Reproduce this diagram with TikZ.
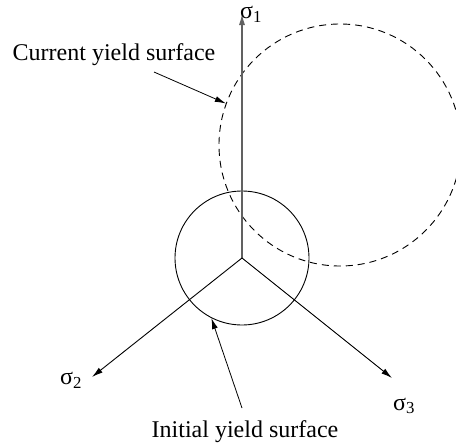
\documentclass[tikz,border=0pt]{standalone}
\usepackage{fontspec}
\setmainfont{Liberation Serif}
\usetikzlibrary{arrows.meta}
\tikzset{
  axisline/.style={line width=0.9pt,-{Latex[length=11pt,width=6pt]}},
  ysurf/.style={circle,draw,line width=0.9pt,inner sep=0pt},
  ylbl/.style={font=\fontsize{24}{28}\selectfont,inner sep=0pt},
  ptr/.style={line width=0.8pt,-{Latex[length=11pt,width=6pt]}}
}
\newcommand{\sig}[1]{σ\textsubscript{#1}}

\begin{document}
\begin{tikzpicture}[x=1pt,y=-1pt]
\useasboundingbox (0,0) rectangle (456,447);
\coordinate (O) at (242,258);
\foreach \nm/\px/\py in {s1/242/14,s2/92/377,s3/392/378}{\coordinate (\nm) at (\px,\py);}
% yield surfaces
\node[ysurf,minimum size=134pt] (init) at (O) {};
\begin{scope}
  \clip (0,0) rectangle (456,447);
  \node[ysurf,minimum size=242pt,dash pattern=on 7pt off 5pt] (cur) at (340,145) {};
\end{scope}
% principal stress axes
\draw[axisline,draw=black!62,line width=1.2pt] (O) -- (s1);
\foreach \s in {s2,s3}{\draw[axisline] (O) -- (\s);}
\node[ylbl] (l1) at (251,14) {\sig{1}};
\node[ylbl] (l2) at (71,380) {\sig{2}};
\node[ylbl] (l3) at (404,406) {\sig{3}};
% labels
\node[ylbl] (curlbl) at (114,55) {Current yield surface};
\node[ylbl] (initlbl) at (245,432) {Initial yield surface};
\coordinate (curtail) at (154,72);
\coordinate (inittail) at (242,408);
\draw[ptr] (curtail) -- (cur.160);
\draw[ptr] (inittail) -- (init.243);
\end{tikzpicture}
\end{document}
